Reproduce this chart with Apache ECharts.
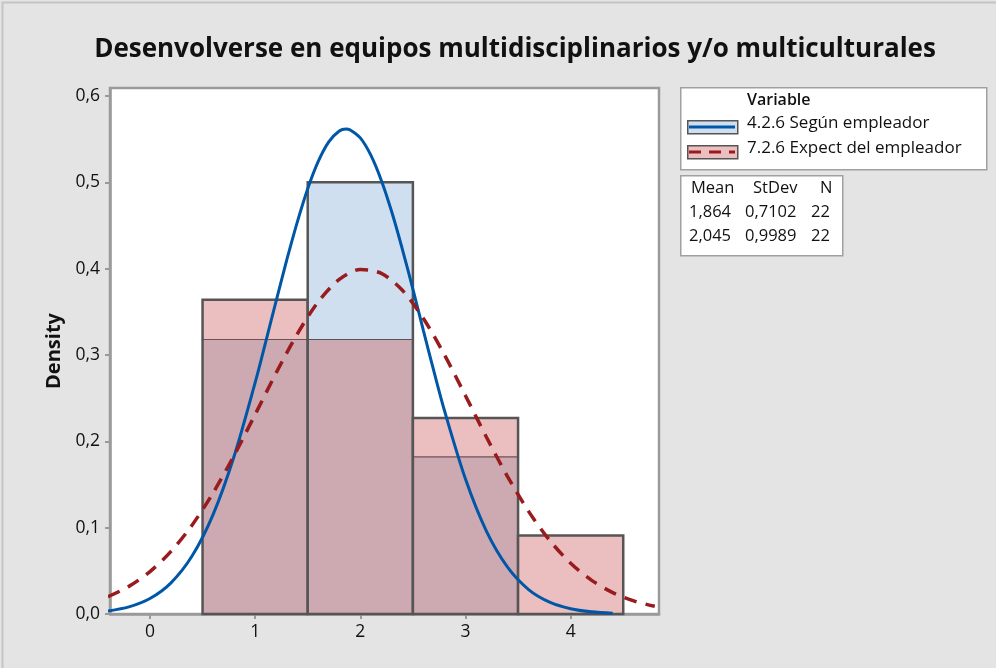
<!DOCTYPE html>
<html>
<head>
<meta charset="utf-8">
<script src="https://cdn.jsdelivr.net/npm/echarts@6/dist/echarts.min.js"></script>
<style>
  html,body{margin:0;padding:0;background:#e4e4e4;}
  #chart{width:996px;height:668px;}
</style>
</head>
<body>
<div id="chart"></div>
<script>
// ======== データ ========
const titleText = 'Desenvolverse en equipos multidisciplinarios y/o multiculturales';
const seriesNames = ['4.2.6 Según empleador', '7.2.6 Expect del empleador'];
const binStarts = [0.5, 1.5, 2.5, 3.5];
const binEnds   = [1.5, 2.5, 3.5, 4.5];
const densityA  = [0.318, 0.5, 0.182, 0];      // 4.2.6
const densityB  = [0.364, 0.318, 0.227, 0.091]; // 7.2.6
const xTicks = [0, 1, 2, 3, 4];
const yTicks = [0, 0.1, 0.2, 0.3, 0.4, 0.5, 0.6];

// ajuste normal
const curveAX = [-0.4,-0.2,0,0.2,0.4,0.6,0.8,1.0,1.1,1.2,1.3,1.4,1.5,1.6,1.7,1.8,1.864,1.9,2.0,2.1,2.2,2.3,2.4,2.5,2.6,2.7,2.8,3.0,3.2,3.4,3.6,3.8,4.0,4.2,4.4];
const curveAY = [0.0035,0.0082,0.0179,0.0361,0.0671,0.1152,0.1828,0.2680,0.3149,0.3628,0.4098,0.4537,0.4926,0.5242,0.5469,0.5594,0.5617,0.5610,0.5515,0.5315,0.5022,0.4653,0.4225,0.3762,0.3283,0.2810,0.2357,0.1563,0.0957,0.0542,0.0283,0.0137,0.0061,0.0025,0.0010];
const curveBX = [-0.4,-0.2,0,0.2,0.4,0.6,0.8,1.0,1.2,1.4,1.6,1.8,2.0,2.2,2.4,2.6,2.8,3.0,3.2,3.4,3.6,3.8,4.0,4.2,4.4,4.6,4.8];
const curveBY = [0.0200,0.0320,0.0491,0.0725,0.1029,0.1403,0.1837,0.2311,0.2793,0.3242,0.3617,0.3876,0.3990,0.3946,0.3750,0.3423,0.3002,0.2529,0.2047,0.1592,0.1189,0.0853,0.0588,0.0390,0.0248,0.0152,0.0089];

const statMean = ['1,864', '2,045'];
const statSd   = ['0,7102', '0,9989'];
const statN    = ['22', '22'];

// ======== 色 ========
const FILL_A = '#d0dff0', FILL_B = '#ebbfbf', FILL_AB = '#cda9b1';
const LINE_A = '#0057a8', LINE_B = '#981b1e';
const EDGE = '#555555';
const FONT = '"Open Sans", "Noto Sans", sans-serif';

const fmt = v => v.toFixed(1).replace('.', ',');

const histData = binStarts.map((s, i) => [s, binEnds[i], densityA[i], densityB[i]]);

function renderBin(params, api){
  const x0 = api.value(0), x1 = api.value(1), a = api.value(2), b = api.value(3);
  const lo = Math.min(a, b), hi = Math.max(a, b);
  const p0 = api.coord([x0, 0]);
  const pHi = api.coord([x1, hi]);
  const pLo = api.coord([x1, lo]);
  const w = pHi[0] - p0[0];
  const children = [];
  children.push({ type:'rect', shape:{ x:p0[0], y:pHi[1], width:w, height:p0[1]-pHi[1] },
    style:{ fill: b > a ? FILL_B : FILL_A } });
  if (lo > 0) {
    children.push({ type:'rect', shape:{ x:p0[0], y:pLo[1], width:w, height:p0[1]-pLo[1] },
      style:{ fill: FILL_AB } });
    children.push({ type:'line', shape:{ x1:p0[0], y1:pLo[1], x2:pHi[0], y2:pLo[1] },
      style:{ stroke: b > a ? '#6e5055' : EDGE, lineWidth:1.2 } });
  }
  children.push({ type:'rect', shape:{ x:p0[0], y:pHi[1], width:w, height:p0[1]-pHi[1] },
    style:{ fill:'none', stroke:EDGE, lineWidth:2.5 } });
  return { type:'group', children };
}

// ======== レジェンド・統計表 ========
const graphics = [
  { type:'rect', left:0, top:0, shape:{ width:995, height:667 }, style:{ fill:'none', stroke:'#c4c4c4', lineWidth:2 }, silent:true },
  // legend box
  { type:'rect', left:680, top:87, shape:{ width:306, height:82 }, style:{ fill:'#fff', stroke:'#a0a0a0', lineWidth:1.5 } },
  { type:'text', left:747, top:92, style:{ text:'Variable', font:'600 16px ' + FONT, fill:'#111' } },
  { type:'rect', left:687, top:120, shape:{ width:50, height:13 }, style:{ fill:FILL_A, stroke:EDGE, lineWidth:1.5 } },
  { type:'line', shape:{ x1:689, y1:127, x2:735, y2:127 }, style:{ stroke:LINE_A, lineWidth:3 } },
  { type:'text', left:747, top:115, style:{ text:seriesNames[0], font:'17px ' + FONT, fill:'#111' } },
  { type:'rect', left:687, top:145, shape:{ width:50, height:13 }, style:{ fill:FILL_B, stroke:EDGE, lineWidth:1.5 } },
  { type:'line', shape:{ x1:689, y1:152, x2:735, y2:152 }, style:{ stroke:LINE_B, lineWidth:3, lineDash:[12,8] } },
  { type:'text', left:747, top:140, style:{ text:seriesNames[1], font:'17px ' + FONT, fill:'#111' } },
  // stats box
  { type:'rect', left:680, top:175, shape:{ width:162, height:80 }, style:{ fill:'#fff', stroke:'#a0a0a0', lineWidth:1.5 } },
  { type:'text', left:691, top:180, style:{ text:'Mean', font:'16.5px ' + FONT, fill:'#111' } },
  { type:'text', left:753, top:180, style:{ text:'StDev', font:'16.5px ' + FONT, fill:'#111' } },
  { type:'text', left:820, top:180, style:{ text:'N', font:'16.5px ' + FONT, fill:'#111' } }
];
statMean.forEach((m, i) => {
  const y = 204 + i * 24;
  graphics.push({ type:'text', left:689, top:y, style:{ text:m, font:'16.5px ' + FONT, fill:'#111' } });
  graphics.push({ type:'text', left:745, top:y, style:{ text:statSd[i], font:'16.5px ' + FONT, fill:'#111' } });
  graphics.push({ type:'text', left:811, top:y, style:{ text:statN[i], font:'16.5px ' + FONT, fill:'#111' } });
});

// ======== チャート ========
const chart = echarts.init(document.getElementById('chart'), null, { renderer:'canvas' });
chart.setOption({
  backgroundColor:'#e4e4e4',
  animation:false,
  title:{ text:titleText, left:510, top:32, textAlign:'center',
    textStyle:{ fontFamily:FONT, fontSize:26, fontWeight:'bold', color:'#111' } },
  grid:{ left:110, top:88, right:337, bottom:54, show:true, backgroundColor:'#fff', borderColor:'#9a9a9a', borderWidth:2.5 },
  xAxis:{
    type:'value', min:-0.38, max:4.84,
    axisLine:{ show:true, onZero:false, lineStyle:{ color:'#9a9a9a', width:2.5 } },
    axisTick:{ show:true, customValues:xTicks, length:5, lineStyle:{ color:'#9a9a9a', width:2 } },
    axisLabel:{ customValues:xTicks, fontFamily:FONT, fontSize:17.5, color:'#111', margin:9 },
    splitLine:{ show:false }
  },
  yAxis:{
    type:'value', min:0, max:0.6093,
    name:'Density', nameLocation:'middle', nameGap:46,
    nameTextStyle:{ fontFamily:FONT, fontSize:20, fontWeight:'bold', color:'#111' },
    axisLine:{ show:true, onZero:false, lineStyle:{ color:'#9a9a9a', width:2.5 } },
    axisTick:{ show:true, customValues:yTicks, length:5, lineStyle:{ color:'#9a9a9a', width:2 } },
    axisLabel:{ customValues:yTicks, formatter:fmt, fontFamily:FONT, fontSize:17.5, color:'#111', margin:10 },
    splitLine:{ show:false }
  },
  series:[
    { type:'custom', name:'hist', renderItem:renderBin, data:histData, encode:{ x:[0,1], y:[2,3] }, z:2 },
    { type:'line', name:seriesNames[0], data:curveAX.map((x, i) => [x, curveAY[i]]), smooth:0.3,
      showSymbol:false, lineStyle:{ color:LINE_A, width:3 }, z:3 },
    { type:'line', name:seriesNames[1], data:curveBX.map((x, i) => [x, curveBY[i]]), smooth:0.3,
      showSymbol:false, lineStyle:{ color:LINE_B, width:3.5, type:[13,9] }, z:4 }
  ],
  graphic:graphics
});
</script>
</body>
</html>
